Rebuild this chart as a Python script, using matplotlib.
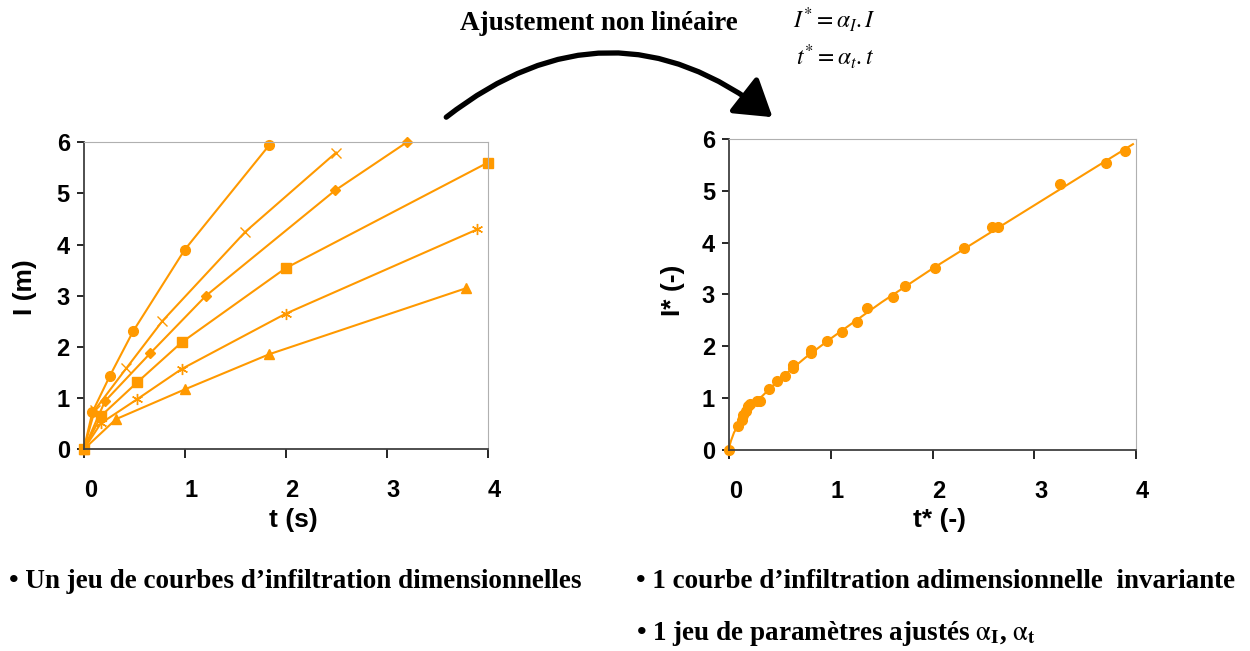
import matplotlib.pyplot as plt
from matplotlib.patches import FancyArrowPatch

plt.rcParams['mathtext.fontset'] = 'stix'

orange = '#FF9900'

# left chart: one curve per soil, cumulative infiltration I (m) vs time t (s)
t_circle = [0, 0.086, 0.26, 0.49, 1.0, 1.84]
I_circle = [0, 0.73, 1.44, 2.31, 3.90, 5.95]
t_x = [0, 0.11, 0.42, 0.78, 1.60, 2.50]
I_x = [0, 0.77, 1.58, 2.51, 4.25, 5.80]
t_diam = [0, 0.21, 0.66, 1.21, 2.49, 3.20]
I_diam = [0, 0.94, 1.88, 3.00, 5.06, 6.00]
t_sq = [0, 0.175, 0.53, 0.97, 2.0, 4.0]
I_sq = [0, 0.66, 1.31, 2.09, 3.54, 5.60]
t_ast = [0, 0.17, 0.53, 0.97, 2.0, 3.90]
I_ast = [0, 0.51, 0.98, 1.57, 2.65, 4.30]
t_tri = [0, 0.32, 1.0, 1.84, 3.79]
I_tri = [0, 0.59, 1.17, 1.86, 3.15]

# right chart: scaled points and the invariant curve
ts_pts = [0, 0.092, 0.125, 0.14, 0.164, 0.19, 0.206, 0.28, 0.30, 0.39, 0.47,
          0.55, 0.63, 0.63, 0.81, 0.81, 0.96, 1.11, 1.26, 1.36, 1.61, 1.73,
          2.02, 2.31, 2.58, 2.64, 3.25, 3.71, 3.89]
Is_pts = [0, 0.46, 0.58, 0.68, 0.76, 0.84, 0.89, 0.95, 0.95, 1.18, 1.34,
          1.42, 1.58, 1.64, 1.88, 1.92, 2.11, 2.27, 2.46, 2.73, 2.96, 3.16,
          3.52, 3.89, 4.30, 4.30, 5.13, 5.54, 5.76]
ts_fit = [0, 0.005, 0.02, 0.05, 0.1, 0.2, 0.3, 0.5, 0.75, 1.0, 1.5, 2.0,
          2.5, 3.0, 3.5, 3.97]
Is_fit = [0, 0.08, 0.18, 0.34, 0.50, 0.81, 0.99, 1.37, 1.78, 2.15, 2.85,
          3.50, 4.11, 4.72, 5.33, 5.90]

tick_x = [0, 1, 2, 3, 4]
tick_y = [0, 1, 2, 3, 4, 5, 6]

fig = plt.figure(figsize=(12.5, 6.51), dpi=100)
ax1 = fig.add_axes([0.067, 0.3098, 0.323, 0.4716])
ax2 = fig.add_axes([0.5832, 0.3088, 0.3256, 0.4777])

mk = dict(color=orange, lw=1.5, clip_on=False)
ax1.plot(t_circle, I_circle, marker='o', ms=7, **mk)
ax1.plot(t_x, I_x, marker='x', ms=7, mew=1, **mk)
ax1.plot(t_diam, I_diam, marker='D', ms=5, **mk)
ax1.plot(t_sq, I_sq, marker='s', ms=6.5, **mk)
ax1.plot(t_ast, I_ast, marker=(6, 2, 0), ms=8, mew=1, **mk)
ax1.plot(t_tri, I_tri, marker='^', ms=7, **mk)

ax2.plot(ts_fit, Is_fit, color=orange, lw=1.5)
ax2.plot(ts_pts, Is_pts, 'o', color=orange, ms=7, clip_on=False)

# label positions in axes fraction (xlabel top, ylabel right edge)
layout = [(ax1, 't (s)', 'I (m)', (0.518, -0.19), (-0.115, 0.529)),
          (ax2, 't* (-)', 'I* (-)', (0.516, -0.185), (-0.108, 0.514))]
for ax, xl, yl, xpos, ypos in layout:
    ax.set_xlim(0, 4)
    ax.set_ylim(0, 6)
    ax.set_xticks(tick_x)
    ax.set_xticklabels([str(v) for v in tick_x], ha='left', fontweight='bold',
                       family='Liberation Sans')
    ax.set_yticks(tick_y)
    ax.set_yticklabels([str(v) for v in tick_y], fontweight='bold',
                       family='Liberation Sans')
    ax.tick_params(labelsize=17, width=1.2, direction='out')
    ax.tick_params(axis='x', length=6.5, pad=15)
    ax.tick_params(axis='y', length=5, pad=5)
    ax.spines['top'].set_color('#b0b0b0')
    ax.spines['right'].set_color('#b0b0b0')
    ax.spines['left'].set_color('#404040')
    ax.spines['bottom'].set_color('#404040')
    ax.spines['left'].set_linewidth(1.3)
    ax.spines['bottom'].set_linewidth(1.3)
    ax.set_xlabel(xl, fontsize=19, fontweight='bold', family='Liberation Sans')
    ax.set_ylabel(yl, fontsize=19, fontweight='bold', family='Liberation Sans')
    ax.xaxis.set_label_coords(*xpos)
    ax.yaxis.set_label_coords(*ypos)

serif = 'Liberation Serif'
fig.text(0.479, 0.964, 'Ajustement non linéaire', fontsize=19.5, fontweight='bold',
         family=serif, ha='center', va='center')
fig.text(0.668, 0.97, r'$I^{*}=\alpha_{I}.I$', fontsize=17, ha='center', va='center')
fig.text(0.668, 0.913, r'$t^{*}=\alpha_{t}.t$', fontsize=17, ha='center', va='center')

arrow = FancyArrowPatch((0.357, 0.820), (0.618, 0.820), transform=fig.transFigure,
                        connectionstyle='arc3,rad=-0.39',
                        arrowstyle='-|>,head_length=1.1,head_width=0.7',
                        mutation_scale=20, lw=3.8, color='black', shrinkA=0, shrinkB=0)
fig.patches.append(arrow)

fig.text(0.007, 0.107, '• Un jeu de courbes d’infiltration dimensionnelles', fontsize=19.5,
         fontweight='bold', family=serif, va='center')
fig.text(0.509, 0.107, '• 1 courbe d’infiltration adimensionnelle  invariante', fontsize=19.5,
         fontweight='bold', family=serif, va='center')
fig.text(0.509, 0.027, r'• 1 jeu de paramètres ajustés $\mathrm{\alpha}_{\mathbf{I}}$, $\mathrm{\alpha}_{\mathbf{t}}$',
         fontsize=19.5, fontweight='bold', family=serif, va='center')

fig.savefig('out.png', dpi=100)
